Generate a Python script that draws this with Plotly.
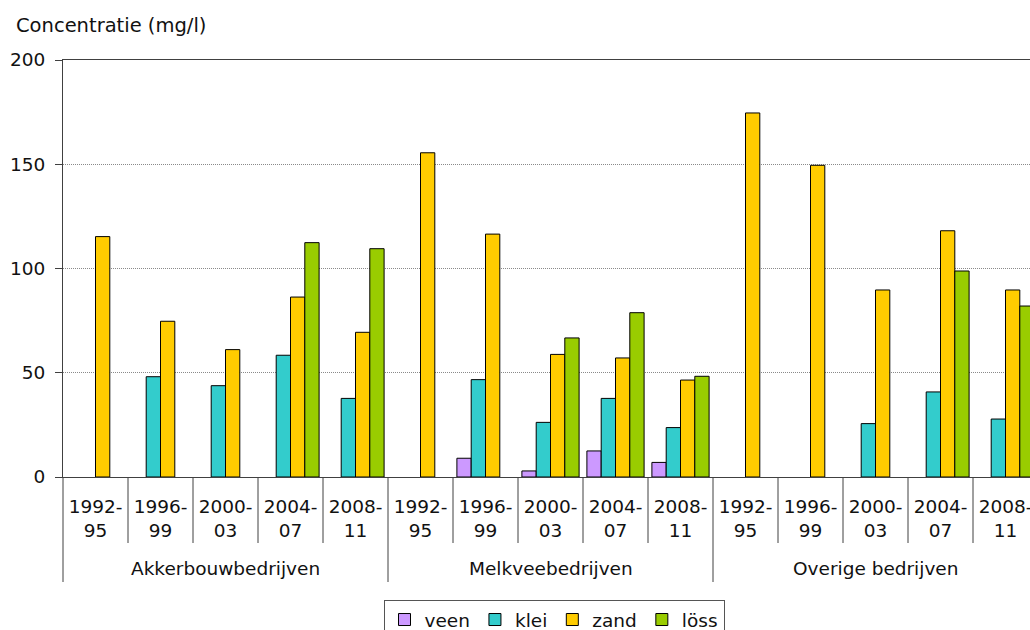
import plotly.graph_objects as go

# ---- data ----
groups = ["Akkerbouwbedrijven", "Melkveebedrijven", "Overige bedrijven"]
periods = ["1992-<br>95", "1996-<br>99", "2000-<br>03", "2004-<br>07", "2008-<br>11"]

veen = [None, None, None, None, None,
        None, 9.0, 2.9, 12.5, 7.0,
        None, None, None, None, None]
klei = [None, 48.1, 43.8, 58.4, 37.7,
        None, 46.7, 26.2, 37.7, 23.7,
        None, None, 25.6, 40.8, 27.8]
zand = [115.3, 74.7, 61.1, 86.3, 69.4,
        155.5, 116.5, 58.8, 57.1, 46.5,
        174.6, 149.5, 89.7, 118.1, 89.7]
loss = [None, None, None, 112.4, 109.5,
        None, None, 66.7, 78.8, 48.3,
        None, None, None, 98.8, 82.0]

series_names = ["veen", "klei", "zand", "löss"]
series_values = [veen, klei, zand, loss]
series_colors = ["#CC99FF", "#33CCCC", "#FFCC00", "#99CC00"]

y_ticks = [0, 50, 100, 150, 200]

# ---- layout geometry ----
# the figure is a little taller than the 630px window; the bottom of the
# legend is cut off by the window just as in the reference
W, H = 1030, 660
ML, MR, MT = 63, 0, 60
AXIS_Y = 477                 # pixel row of the x axis
MB = H - AXIS_Y
plot_w = W - ML - MR
plot_h = AXIS_Y - MT
cat_px = 65.0                # width of one category in px
n_cat = len(groups) * len(periods)
x_idx = list(range(n_cat))
r0 = -0.5
r1 = r0 + plot_w / cat_px


def py(pix):
    """pixel row -> paper y"""
    return (AXIS_Y - pix) / plot_h


FONT = "DejaVu Sans"
FS = 18.5
TXT = "#111111"
LINE = "#404040"

fig = go.Figure()
for name, vals, col in zip(series_names, series_values, series_colors):
    fig.add_trace(go.Bar(
        x=x_idx, y=vals, name=name,
        marker=dict(color=col, line=dict(color="#000000", width=1)),
    ))

tick_text = [p for g in groups for p in periods]

fig.update_layout(
    width=W, height=H,
    margin=dict(l=ML, r=MR, t=MT, b=MB, pad=0, autoexpand=False),
    paper_bgcolor="white", plot_bgcolor="white",
    barmode="group", bargap=0.12, bargroupgap=0,
    font=dict(family=FONT, size=FS, color=TXT),
    showlegend=True,
    legend=dict(
        orientation="h",
        x=(554 - ML) / plot_w, xanchor="center",
        y=py(600), yanchor="top",
        bordercolor="#555555", borderwidth=1,
        font=dict(family=FONT, size=FS, color=TXT),
        itemwidth=30, tracegroupgap=0,
    ),
    xaxis=dict(
        range=[r0, r1],
        tickmode="array", tickvals=x_idx, ticktext=tick_text,
        ticks="", showgrid=False, zeroline=False,
        showline=True, linecolor=LINE, linewidth=1, mirror=True,
        tickfont=dict(family=FONT, size=FS, color=TXT),
        ticklabelstandoff=13, ticklabeloverflow="allow",
        fixedrange=True,
    ),
    yaxis=dict(
        range=[0, 200], tickmode="array", tickvals=y_ticks,
        ticks="outside", ticklen=7, tickcolor=LINE, tickwidth=1,
        showline=True, linecolor=LINE, linewidth=1,
        showgrid=True, gridcolor="#8a8a8a", griddash="1px,1px", gridwidth=1,
        zeroline=False,
        tickfont=dict(family=FONT, size=FS, color=TXT),
        ticklabelstandoff=6,
        fixedrange=True,
    ),
)

# axis title at the top-left
fig.add_annotation(
    text="Concentratie (mg/l)", xref="paper", yref="paper",
    x=(14 - ML) / plot_w, xanchor="left",
    y=py(25), yanchor="middle",
    showarrow=False, font=dict(family=FONT, size=19.5, color=TXT),
)

# group labels, centred on each group of categories
n_per = len(periods)
for gi, g in enumerate(groups):
    centre = gi * n_per + (n_per - 1) / 2
    fig.add_annotation(
        text=g, xref="x", yref="paper", x=centre, xanchor="center",
        y=py(568), yanchor="middle",
        showarrow=False, font=dict(family=FONT, size=FS, color=TXT),
    )

# category / group dividers below the axis
y_short = py(543)
y_long = py(582)
for b in range(n_cat + 1):
    xb = b - 0.5
    xp = (xb - r0) / (r1 - r0)
    if xp > 1.0001:
        continue
    fig.add_shape(
        type="line", xref="paper", yref="paper",
        x0=xp, x1=xp, y0=0, y1=(y_long if b % n_per == 0 else y_short),
        line=dict(color=LINE, width=1), layer="above",
    )

fig.write_html(
    "out.html",
    config={"displayModeBar": False},
    post_script="document.body.style.margin='0';document.body.style.overflow='hidden';",
)
